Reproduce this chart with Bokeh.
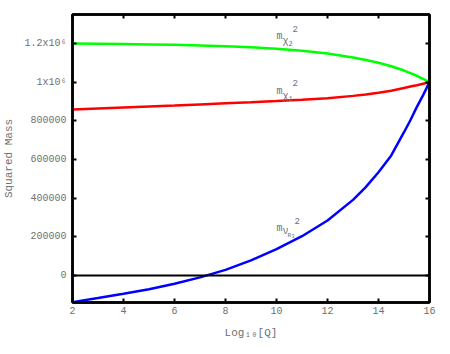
from bokeh.plotting import figure
from bokeh.models import Range1d, LinearAxis, FixedTicker, Span, Label, CustomLabelingPolicy
from bokeh.embed import file_html
from bokeh.resources import INLINE

# data
log_q = [2, 3, 4, 5, 6, 7, 8, 9, 10, 11, 12, 13, 13.5, 14, 14.5, 15, 15.25, 15.5, 15.75, 16]
m_chi2 = [1.200e6, 1.199e6, 1.197e6, 1.195e6, 1.193e6, 1.190e6, 1.186e6, 1.180e6, 1.173e6,
          1.162e6, 1.148e6, 1.128e6, 1.115e6, 1.100e6, 1.082e6, 1.060e6, 1.047e6, 1.033e6,
          1.017e6, 1.000e6]
m_chi1 = [0.859e6, 0.864e6, 0.869e6, 0.874e6, 0.879e6, 0.885e6, 0.891e6, 0.896e6, 0.902e6,
          0.909e6, 0.917e6, 0.929e6, 0.936e6, 0.945e6, 0.956e6, 0.970e6, 0.977e6, 0.984e6,
          0.992e6, 1.000e6]
m_nu = [-138000, -117000, -95000, -71000, -43000, -10000, 29000, 78000, 136000,
        203000, 284000, 391000, 457000, 534000, 621000, 741000, 803000, 871000,
        933000, 1.000e6]

x_ticks = [2, 4, 6, 8, 10, 12, 14, 16]
y_ticks = [0, 200000, 400000, 600000, 800000, 1000000, 1200000]
y_tick_labels = ["0", "200000", "400000", "600000", "800000", "1x10\u2076", "1.2x10\u2076"]

FONT = "Liberation Mono"
GRAY = "#707070"

p = figure(width=441, height=342, output_backend="svg", toolbar_location=None,
           x_range=Range1d(2, 16), y_range=Range1d(-140000, 1.35e6),
           min_border_left=72, min_border_right=12, min_border_top=14, min_border_bottom=40,
           x_axis_label="Log\u2081\u2080[Q]", y_axis_label="Squared Mass")
p.grid.visible = False
p.outline_line_color = "black"
p.outline_line_width = 2.5

no_labels = CustomLabelingPolicy(code="""
try {
  const n = indices.size;
  for (let i = 0; i < n; i++) { indices.unset(i); }
} catch (e) {}
return indices;
""")

def style_axis(ax, ticks, labels=True):
    ax.ticker = FixedTicker(ticks=ticks)
    ax.axis_line_width = 2.5
    ax.axis_line_color = "black"
    ax.major_tick_in = 4
    ax.major_tick_out = 0
    ax.major_tick_line_width = 2
    ax.minor_tick_line_color = None
    ax.major_label_text_font = FONT
    ax.major_label_text_font_size = "10px"
    ax.major_label_text_color = GRAY
    ax.axis_label_text_font = FONT
    ax.axis_label_text_font_size = "11px"
    ax.axis_label_text_font_style = "normal"
    ax.axis_label_text_color = GRAY
    if not labels:
        ax.major_label_policy = no_labels
        ax.major_label_text_font_size = "1px"
        ax.major_label_text_alpha = 0
        ax.major_label_standoff = 0

style_axis(p.xaxis[0], x_ticks)
style_axis(p.yaxis[0], y_ticks)
p.xaxis[0].major_label_standoff = 4
p.xaxis[0].axis_label_standoff = 10
p.yaxis[0].major_label_standoff = 6
p.yaxis[0].axis_label_standoff = 6
p.yaxis[0].major_label_overrides = {t: l for t, l in zip(y_ticks, y_tick_labels)}

top = LinearAxis()
style_axis(top, x_ticks, labels=False)
p.add_layout(top, "above")
right = LinearAxis()
style_axis(right, y_ticks, labels=False)
p.add_layout(right, "right")

p.add_layout(Span(location=0, dimension="width", line_color="black", line_width=2))

p.line(log_q, m_chi2, line_color="#00ff00", line_width=2.5)
p.line(log_q, m_chi1, line_color="#ff0000", line_width=2.5)
p.line(log_q, m_nu, line_color="#0000ff", line_width=2.5)

def add_label(x, y, parts):
    for txt, dx, dy, size in parts:
        p.add_layout(Label(x=x, y=y, x_offset=dx, y_offset=dy, text=txt,
                           text_font=FONT, text_font_size=size, text_color=GRAY,
                           text_baseline="alphabetic"))

lx = 10.0
add_label(lx, 1.236e6, [("m", 0, 0, "10px"), ("\u03c7", 6, -5, "10px"), ("2", 12, -7, "7px"), ("2", 16, 8, "9px")])
add_label(lx, 0.953e6, [("m", 0, 0, "10px"), ("\u03c7", 6, -5, "10px"), ("1", 12, -7, "7px"), ("2", 16, 8, "9px")])
add_label(lx, 0.243e6, [("m", 0, 0, "10px"), ("\u03bd", 6, -3, "10px"), ("R", 11, -7, "6px"), ("3", 15, -8, "5px"), ("2", 18, 7, "9px")])

open("out.html", "w").write(file_html(p, INLINE))
